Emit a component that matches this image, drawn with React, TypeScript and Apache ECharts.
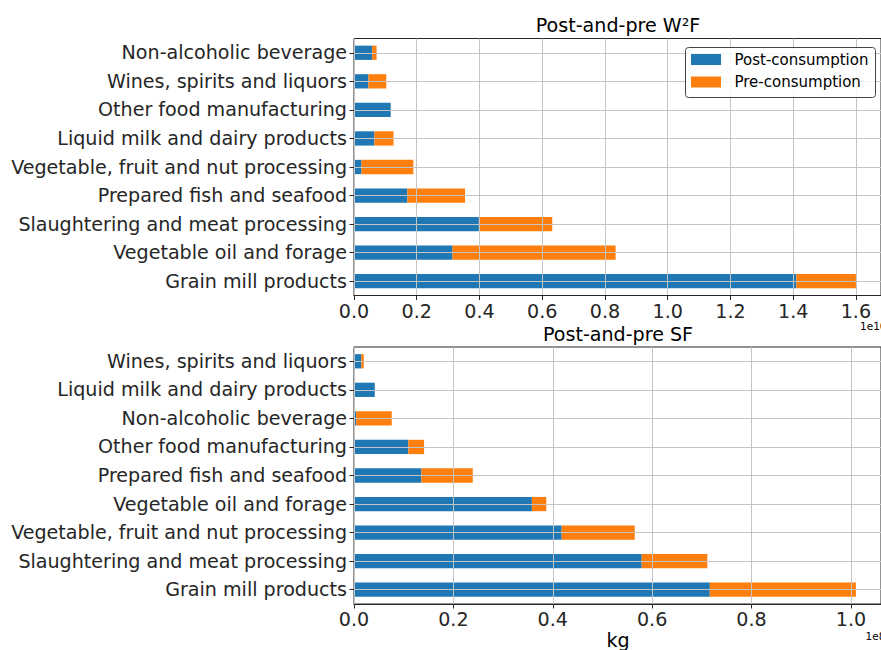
import React, { useEffect, useRef } from "react";
import * as echarts from "echarts";

// Categories listed bottom-to-top (as ECharts category axis draws them)
const categoriesW2F = [
  "Grain mill products",
  "Vegetable oil and forage",
  "Slaughtering and meat processing",
  "Prepared fish and seafood",
  "Vegetable, fruit and nut processing",
  "Liquid milk and dairy products",
  "Other food manufacturing",
  "Wines, spirits and liquors",
  "Non-alcoholic beverage",
];
const postW2F = [1.41e10, 0.314e10, 0.398e10, 0.17e10, 0.024e10, 0.065e10, 0.117e10, 0.046e10, 0.058e10];
const preW2F = [0.19e10, 0.52e10, 0.234e10, 0.184e10, 0.165e10, 0.061e10, 0, 0.057e10, 0.014e10];

const categoriesSF = [
  "Grain mill products",
  "Slaughtering and meat processing",
  "Vegetable, fruit and nut processing",
  "Vegetable oil and forage",
  "Prepared fish and seafood",
  "Other food manufacturing",
  "Non-alcoholic beverage",
  "Liquid milk and dairy products",
  "Wines, spirits and liquors",
];
const postSF = [0.716e8, 0.579e8, 0.418e8, 0.358e8, 0.1355e8, 0.1094e8, 0.0044e8, 0.0418e8, 0.0145e8];
const preSF = [0.294e8, 0.132e8, 0.147e8, 0.029e8, 0.1035e8, 0.0316e8, 0.0715e8, 0, 0.0052e8];

const seriesNames = ["Post-consumption", "Pre-consumption"];
const colors = ["#1f77b4", "#ff7f0e"];

const FONT = '"DejaVu Sans", sans-serif';
const FS = 19.1;
const INK = "#262626";
const GRIDC = "#c4c4c4";

export default function App() {
  const ref = useRef<HTMLDivElement>(null);
  useEffect(() => {
    if (!ref.current) return;
    const chart = echarts.init(ref.current, null, { renderer: "svg" });

    const makeX = (gridIndex: number, max: number, interval: number, scale: number) => ({
      type: "value",
      gridIndex,
      min: 0,
      max,
      interval,
      z: 3,
      axisLine: { show: true, lineStyle: { color: INK, width: 1 } },
      axisTick: { show: true, length: 4.5, lineStyle: { color: INK, width: 1 } },
      axisLabel: {
        showMaxLabel: false,
        fontSize: FS,
        fontFamily: FONT,
        color: INK,
        margin: 6,
        formatter: (v: number) => (v / scale).toFixed(1),
      },
      splitLine: { show: true, lineStyle: { color: GRIDC, width: 1 } },
    });

    const makeY = (gridIndex: number, data: string[]) => ({
      type: "category",
      gridIndex,
      data,
      axisLine: { show: true, lineStyle: { color: INK, width: 1 } },
      axisTick: { show: true, alignWithLabel: true, length: 4.5, lineStyle: { color: INK } },
      axisLabel: { fontSize: FS, fontFamily: FONT, color: INK, margin: 7 },
      splitLine: { show: false },
    });

    const hLines = (cats: string[]) => ({
      silent: true,
      symbol: "none",
      label: { show: false },
      lineStyle: { color: GRIDC, width: 1, type: "solid" },
      emphasis: { disabled: true },
      data: cats.map((c) => ({ yAxis: c })),
    });

    const bar = (name: string, data: number[], idx: number, color: string, stack: string, mark?: any) => ({
      type: "bar",
      name,
      data,
      xAxisIndex: idx,
      yAxisIndex: idx,
      stack,
      barWidth: "50%",
      itemStyle: { color },
      ...(mark ? { markLine: mark } : {}),
    });

    const txt = (text: string, x: number, y: number, size: number, align = "center") => ({
      type: "text",
      x,
      y,
      z: 100,
      style: {
        text,
        fill: "#000",
        font: `${size}px ${FONT}`,
        align,
        verticalAlign: "middle",
      },
    });

    const option: any = {
      animation: false,
      textStyle: { fontFamily: FONT },
      grid: [
        { left: 354, right: -1.5, top: 38.5, height: 257, show: true, borderColor: INK, borderWidth: 1, containLabel: false },
        { left: 354, right: -1.5, top: 347, height: 257, show: true, borderColor: INK, borderWidth: 1, containLabel: false },
      ],
      xAxis: [makeX(0, 1.68e10, 0.2e10, 1e10), makeX(1, 1.0605e8, 0.2e8, 1e8)],
      yAxis: [makeY(0, categoriesW2F), makeY(1, categoriesSF)],
      series: [
        bar(seriesNames[0], postW2F, 0, colors[0], "w2f"),
        bar(seriesNames[1], preW2F, 0, colors[1], "w2f", hLines(categoriesW2F)),
        bar(seriesNames[0], postSF, 1, colors[0], "sf"),
        bar(seriesNames[1], preSF, 1, colors[1], "sf", hLines(categoriesSF)),
      ],
      graphic: [
        txt("Post-and-pre W²F", 618, 25, FS),
        txt("Post-and-pre SF", 618, 334, FS),
        txt("kg", 618, 640, FS),
        txt("1e10", 860, 326, 10.5, "left"),
        txt("1e8", 865.5, 636, 10.5, "left"),
        {
          type: "rect",
          z: 100,
          shape: { x: 685.5, y: 47.5, width: 190, height: 50, r: 3 },
          style: { fill: "rgba(255,255,255,0.85)", stroke: "#444", lineWidth: 1 },
        },
        { type: "rect", z: 101, shape: { x: 691, y: 54, width: 30, height: 11 }, style: { fill: colors[0] } },
        { type: "rect", z: 101, shape: { x: 691, y: 76.5, width: 30, height: 11 }, style: { fill: colors[1] } },
        { ...txt(seriesNames[0], 734.5, 59.5, 15, "left"), z: 101 },
        { ...txt(seriesNames[1], 734.5, 82, 15, "left"), z: 101 },
      ],
    };
    chart.setOption(option);
    return () => chart.dispose();
  }, []);

  return (
    <div
      ref={ref}
      style={{ position: "absolute", left: 0, top: 0, width: 881, height: 650, background: "#fff" }}
    />
  );
}
